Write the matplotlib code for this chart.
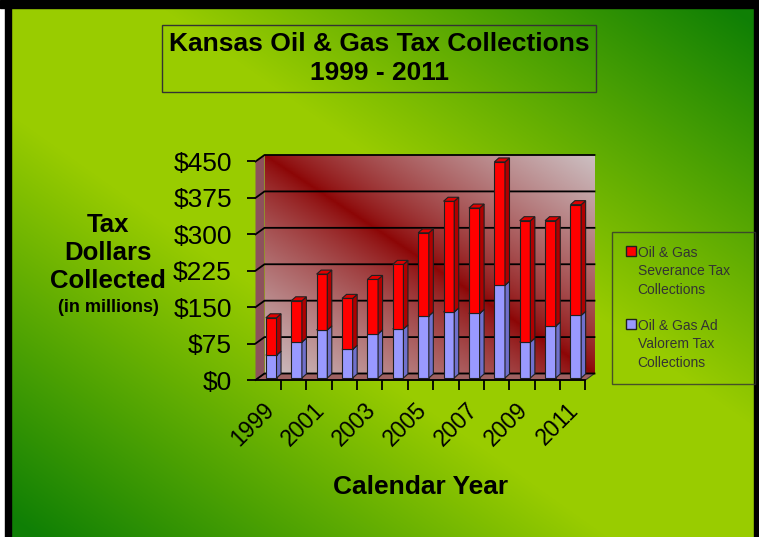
import numpy as np
import matplotlib.pyplot as plt
from matplotlib.patches import Polygon, Patch
from matplotlib.transforms import ScaledTranslation

plt.rcParams['font.family'] = ['Liberation Sans', 'DejaVu Sans']

years = list(range(1999, 2012))
ad_valorem = [47, 74, 99, 59, 91, 101, 128, 136, 133, 191, 74, 107, 129]
severance = [77, 85, 115, 105, 112, 133, 171, 228, 217, 254, 250, 217, 228]
y_ticks = [0, 75, 150, 225, 300, 375, 450]
y_labels = ['$' + str(v) for v in y_ticks]
legend_labels = ['Oil & Gas\nSeverance Tax\nCollections',
                 'Oil & Gas Ad\nValorem Tax\nCollections']

W, H = 759, 537
fig = plt.figure(figsize=(W / 100, H / 100), dpi=100)

# green slide background, light through the middle, dark toward two corners
bg = fig.add_axes([0, 0, 1, 1], zorder=-10)
u, v = np.meshgrid(np.linspace(0, 1, W), np.linspace(1, 0, H))
t = np.clip((np.abs(u + v - 1) - 0.2) / 0.75, 0, 1)[..., None]
lime = np.array([0.60, 0.80, 0.0])
dark = np.array([0.06, 0.50, 0.02])
bg.imshow(lime * (1 - t) + dark * t, extent=[0, W, 0, H], aspect='auto')
bg.add_patch(plt.Rectangle((0, 0), 5, H, color='white'))
bg.add_patch(plt.Rectangle((5, 0), 6, H, color='black'))
bg.add_patch(plt.Rectangle((0, H - 8), W, 8, color='black'))
bg.add_patch(plt.Rectangle((W - 5, 0), 5, H, color='black'))
bg.set_xlim(0, W)
bg.set_ylim(0, H)
bg.axis('off')

ax = fig.add_axes([255.5 / W, 1 - 380 / H, 330 / W, 218.5 / H])
ax.set_xlim(-0.5, 12.5)
ax.set_ylim(0, 450)
ax.patch.set_visible(False)
for s in ['left', 'top', 'right']:
    ax.spines[s].set_visible(False)
ax.spines['bottom'].set_linewidth(1.3)
ax.spines['bottom'].set_zorder(5)

# pixel -> data unit factors for the 3d depth effect
sx = 13 / 330
sy = 450 / 218.5
DX, DY = 9 * sx, 6.5 * sy
x0, x1 = -0.5, 12.5

# back wall: dark red diagonal fading to grey corners
bu, bv = np.meshgrid(np.linspace(0, 1, 200), np.linspace(1, 0, 150))
bt = np.abs(bu + bv - 1)[..., None] ** 0.8
wall_red = np.array([0.55, 0.02, 0.02])
wall_grey = np.array([0.80, 0.75, 0.76])
ax.imshow(wall_red * (1 - bt) + wall_grey * bt,
          extent=[x0 + DX, x1 + DX, DY, 450 + DY], aspect='auto',
          zorder=0, clip_on=False)

# side wall and floor
side = Polygon([(x0, 0), (x0, 450), (x0 + DX, 450 + DY), (x0 + DX, DY)],
               closed=True, facecolor=(0.55, 0.32, 0.36), edgecolor='none',
               zorder=1, clip_on=False)
floor = Polygon([(x0, 0), (x1, 0), (x1 + DX, DY), (x0 + DX, DY)],
                closed=True, facecolor=(0.62, 0.38, 0.38), edgecolor='#333333',
                lw=0.8, zorder=1, clip_on=False)
ax.add_patch(side)
ax.add_patch(floor)

for yt in y_ticks:
    ax.plot([x0, x0 + DX, x1 + DX], [yt, yt + DY, yt + DY], color='black',
            lw=1.3, zorder=2, clip_on=False)

# bars with a little depth
bw = 0.42
FX, FY = 3 * sx, 2 * sy
BX, BY = 4.5 * sx, 4 * sy
xs = np.arange(len(years))
segments = [(np.zeros(len(years)), np.array(ad_valorem), '#9999ff', '#7070cc', '#b0b0ff'),
            (np.array(ad_valorem), np.array(ad_valorem) + np.array(severance),
             '#ff0000', '#b00000', '#e00000')]
for bottoms, tops, front, sidec, topc in segments:
    ax.bar(xs + FX, tops - bottoms, bw, bottom=bottoms + FY, color=front,
           edgecolor='#202020', lw=0.8, zorder=3, clip_on=False)
    for i in xs:
        xa = i + FX - bw / 2
        xb = xa + bw
        ya = bottoms[i] + FY
        yb = tops[i] + FY
        ax.add_patch(Polygon([(xb, ya), (xb + BX, ya + BY), (xb + BX, yb + BY), (xb, yb)],
                             closed=True, facecolor=sidec, edgecolor='#202020',
                             lw=0.8, zorder=3, clip_on=False))
        ax.add_patch(Polygon([(xa, yb), (xa + BX, yb + BY), (xb + BX, yb + BY), (xb, yb)],
                             closed=True, facecolor=topc, edgecolor='#202020',
                             lw=0.8, zorder=3, clip_on=False))

ax.set_yticks(y_ticks)
ax.set_yticklabels(y_labels, fontsize=19)
ax.tick_params(axis='y', length=6, width=1.3, pad=11)

ax.set_xticks(xs[::2])
ax.set_xticklabels([str(y) for y in years[::2]], fontsize=16.5, rotation=45,
                   ha='right', va='top', rotation_mode='anchor')
ax.set_xticks(np.arange(0.5, 13, 1), minor=True)
ax.tick_params(axis='x', which='major', length=0, pad=13)
ax.tick_params(axis='x', which='minor', length=7, width=1.3)
shift = ScaledTranslation(-4 / 72, 0, fig.dpi_scale_trans)
for lbl in ax.get_xticklabels():
    lbl.set_transform(lbl.get_transform() + shift)

fig.text(108 / W, 1 - 253 / H, 'Tax\nDollars\nCollected', ha='center', va='center',
         fontsize=18.5, fontweight='bold', linespacing=1.22)
fig.text(108 / W, 1 - 308 / H, '(in millions)', ha='center', va='center',
         fontsize=13, fontweight='bold')
fig.text(421 / W, 1 - 487 / H, 'Calendar Year', ha='center', va='center',
         fontsize=19, fontweight='bold')

fig.text(379 / W, 1 - 58.5 / H, 'Kansas Oil & Gas Tax Collections\n1999 - 2011',
         ha='center', va='center', fontsize=19, fontweight='bold', linespacing=1.28,
         bbox=dict(boxstyle='square,pad=0.25', fc='none', ec='#333333', lw=1))

handles = [Patch(facecolor='#ff0000', edgecolor='#202020'),
           Patch(facecolor='#9999ff', edgecolor='#202020')]
leg = fig.legend(handles, legend_labels, loc='upper left',
                 bbox_to_anchor=(612 / W, 1 - 232 / H - 0.01, 143 / W, 0.01),
                 mode='expand', borderaxespad=0, fontsize=10, frameon=True,
                 fancybox=False, edgecolor='#333333', handlelength=0.7,
                 handleheight=0.7, handletextpad=0.15, labelspacing=1.6,
                 borderpad=1.0, labelcolor='#333333')
leg.get_frame().set_facecolor('none')
leg.get_frame().set_linewidth(1)
for txt in leg.get_texts():
    txt.set_linespacing(1.4)
    txt.set_multialignment('left')
# square marker sits beside the first line of each label
for column in leg._legend_handle_box.get_children():
    for row in column.get_children():
        row.align = 'top'

fig.savefig('out.png', dpi=100)
